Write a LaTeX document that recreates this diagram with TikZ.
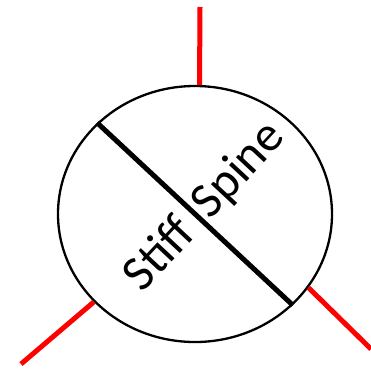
\documentclass[tikz,border=0pt]{standalone}
\usepackage{fontspec}
\setmainfont{Carlito}
\usetikzlibrary{shapes.geometric}
\definecolor{LegRed}{RGB}{255, 0, 0}
\tikzset{
  bodyshape/.style={ellipse, draw=black, line width=2.3pt, inner sep=0pt,
    minimum width=274pt, minimum height=256pt},
  spineline/.style={draw=black, line width=5pt},
  legline/.style={draw=LegRed, line width=5pt},
  spinelabel/.style={font=\fontsize{50}{54}\selectfont, rotate=47, inner sep=0pt}
}
\begin{document}
\begin{tikzpicture}[x=1pt, y=-1pt]
  \useasboundingbox (0,0) rectangle (371,368);
  \node[bodyshape] (body) at (195,214) {};
  \draw[spineline] (body.137) -- (body.317);
  \node[spinelabel] (label) at (205,207) {Stiff\hspace{0.4em}Spine};
  % legs
  \coordinate (topend) at (200,7);
  \coordinate (leftend) at (21,364);
  \coordinate (rightend) at (371,349);
  \draw[legline] (topend) -- (body.88);
  \draw[legline] (leftend) -- (body.221);
  \draw[legline] (rightend) -- (body.327);
\end{tikzpicture}
\end{document}
